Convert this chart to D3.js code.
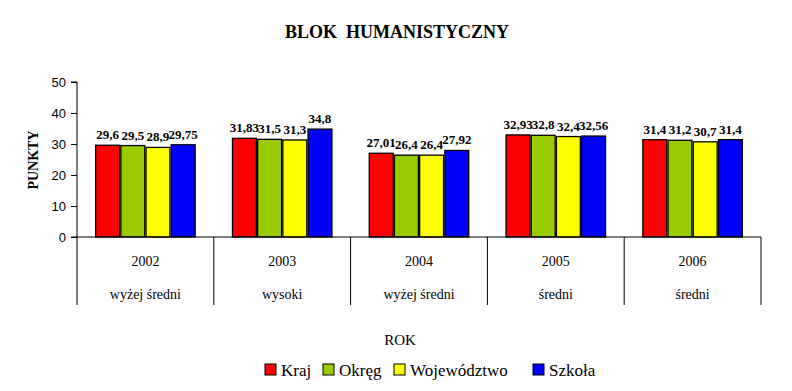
<!DOCTYPE html>
<html><head><meta charset="utf-8">
<script src="https://cdn.jsdelivr.net/npm/d3@7"></script>
<style>body{margin:0;background:#fff}</style>
</head><body><svg id="c" width="792" height="391"></svg>
<script>
const years = ["2002","2003","2004","2005","2006"];
const levels = ["wyżej średni","wysoki","wyżej średni","średni","średni"];
const seriesNames = ["Kraj","Okręg","Województwo","Szkoła"];
const seriesColors = ["#FF0000","#99CC00","#FFFF00","#0000FF"];
const kraj = [29.6, 31.83, 27.01, 32.93, 31.4];
const okreg = [29.5, 31.5, 26.4, 32.8, 31.2];
const wojewodztwo = [28.9, 31.3, 26.4, 32.4, 30.7];
const szkola = [29.75, 34.8, 27.92, 32.56, 31.4];
const yTicks = [0,10,20,30,40,50];
const series = [kraj, okreg, wojewodztwo, szkola];

const SERIF = '"Liberation Serif"';
const svg = d3.select("#c");
const x0 = 77, x1 = 761, yTop = 82, yBot = 237;
const x = d3.scaleBand().domain(years).range([x0, x1]).paddingInner(0).paddingOuter(0);
const y = d3.scaleLinear().domain([0,50]).range([yBot, yTop]);
const xs = d3.scaleBand().domain(d3.range(4)).range([0, 102]).padding(0.05);
const off = (x.bandwidth() - 102) / 2;

function txt(parent, tx, ty, s, size, bold, anchor) {
  return parent.append("text")
    .attr("transform", `translate(${tx},${ty})`)
    .attr("text-anchor", anchor || "middle")
    .style("font-family", SERIF).style("white-space", "pre")
    .style("font-size", size + "px").style("font-weight", bold ? "bold" : "normal")
    .text(s);
}

txt(svg, 397, 38, "BLOK  HUMANISTYCZNY", 18, true);
txt(svg, 38, 160, "PUNKTY", 14, true).attr("transform", "translate(38,160) rotate(-90)");

const ya = svg.append("g").attr("transform", `translate(${x0},0)`)
  .call(d3.axisLeft(y).tickValues(yTicks).tickSize(6).tickPadding(5));
ya.selectAll("text").style("font-family", '"Liberation Sans"').style("font-size", "13px").attr("fill","#000");
ya.selectAll("line,path").attr("stroke","#000");
ya.select(".domain").attr("d", `M-6,${yTop}H0V${yBot}`);

years.forEach((yr, i) => {
  const g = svg.append("g");
  series.forEach((s, j) => {
    const bx = x(yr) + off + xs(j);
    g.append("rect").attr("x", bx).attr("y", y(s[i])).attr("width", xs.bandwidth())
      .attr("height", y(0) - y(s[i])).attr("fill", seriesColors[j]).attr("stroke","#000").attr("stroke-width",1.3);
  });
  series.forEach((s, j) => {
    const bx = x(yr) + off + xs(j) + xs.bandwidth()/2;
    txt(g, bx, y(s[i]) - 6, String(s[i]).replace(".", ","), 13, true);
  });
});

svg.append("line").attr("x1", x0 - 6).attr("x2", x1).attr("y1", yBot).attr("y2", yBot).attr("stroke","#000");
const bounds = years.map(d => x(d)).concat([x1]);
svg.selectAll(".sep").data(bounds).enter().append("line")
  .attr("x1", d => d).attr("x2", d => d).attr("y1", yBot).attr("y2", 305).attr("stroke","#000");
years.forEach((yr, i) => {
  const cx = x(yr) + x.bandwidth()/2;
  txt(svg, cx, 266, yr, 14, false);
  txt(svg, cx, 299, levels[i], 14, false);
});

txt(svg, 400, 345, "ROK", 15, false);

const legX = [265, 323, 394, 533];
seriesNames.forEach((n, j) => {
  svg.append("rect").attr("x", legX[j]).attr("y", 364).attr("width", 11).attr("height", 11)
    .attr("fill", seriesColors[j]).attr("stroke","#000").attr("stroke-width",1);
  txt(svg, legX[j] + 16, 376, n, 17, false, "start");
});
</script></body></html>
